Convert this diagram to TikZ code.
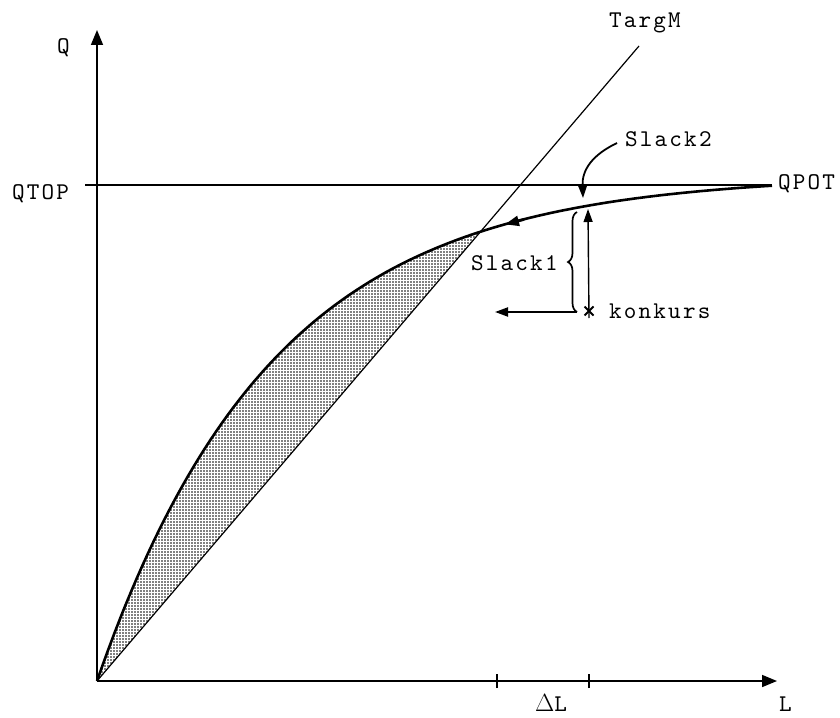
\documentclass[tikz,border=0pt]{standalone}
\usepackage{fontspec}
\newfontfamily\tyfont{lmmono10-regular}[Extension=.otf, LetterSpace=9]
\usetikzlibrary{arrows.meta, patterns.meta, decorations.pathreplacing}
\begin{document}
\begin{tikzpicture}[x=1pt,y=-1pt,
  lbl/.style={font=\tyfont\fontsize{24}{28}\selectfont, inner sep=0pt},
  axisline/.style={line width=1.6pt, -{Triangle[length=15pt,width=12pt]}},
  tipped/.style={-{Triangle[length=13pt,width=9pt]}},
  thincurve/.style={line width=1.2pt},
  thickcurve/.style={line width=2.6pt}]
\useasboundingbox (0,0) rectangle (840,717);
% coordinates
\coordinate (O) at (97,681);
\coordinate (Ytop) at (97,30);
\coordinate (Xend) at (777,681);
\coordinate (QTOPl) at (85,185);
\coordinate (QTOPr) at (772,185);
\coordinate (TargMend) at (639,46);
% shaded lens (between the curve and TargM)
\begin{scope}
  \clip (O) -- (TargMend) -- (97,0) -- cycle;
  \fill[pattern={Dots[distance=3pt, radius=0.8pt]}]
    plot[domain=0:675, samples=120] ({97+\x},{681-506*(1-exp(-0.0057*\x))}) -- (772,681) -- cycle;
\end{scope}
% axes
\draw[axisline] (O) -- (Ytop);
\draw[axisline] (O) -- (Xend);
% ticks
\coordinate (T1) at (497,681);
\coordinate (T2) at (589,681);
\draw[line width=1.6pt] ([yshift=-7pt]T1) -- ([yshift=7pt]T1);
\draw[line width=1.6pt] ([yshift=-7pt]T2) -- ([yshift=7pt]T2);
% QTOP line
\draw[line width=1.8pt] (QTOPl) -- (QTOPr);
% TargM line
\draw[thincurve] (O) -- (TargMend);
% main curve
\draw[thickcurve] plot[domain=0:675, samples=120] ({97+\x},{681-506*(1-exp(-0.0057*\x))});
% arrowhead on the curve
\coordinate (Ca) at (524,219.5);
\coordinate (Cb) at (505,224.4);
\draw[thickcurve, -{Triangle[length=14pt,width=10pt]}] (Ca) -- (Cb);
% konkurs marker
\coordinate (K) at (589,311);
\draw[line width=1.8pt] ([shift={(-4.5,-4.5)}]K) -- ([shift={(4.5,4.5)}]K)
                        ([shift={(-4.5,4.5)}]K) -- ([shift={(4.5,-4.5)}]K);
% vertical arrow to curve
\coordinate (Vtop) at (588,209);
\draw[line width=1.4pt, tipped] ([yshift=-7pt]K) -- (Vtop);
% brace and left arrow
\coordinate (Bbot) at (577,312);
\coordinate (Btop) at (577,212);
\coordinate (Harr) at (495,312);
\draw[line width=1.7pt, decorate, decoration={brace, amplitude=9pt}] (Bbot) -- (Btop);
\draw[line width=2pt, tipped] (Bbot) -- (Harr);
% Slack2 leader
\coordinate (S2a) at (617,143);
\coordinate (S2b) at (583,198);
\draw[line width=1.8pt, tipped] (S2a) .. controls (592,155) and (582,170) .. (S2b);
% labels
\node[lbl, anchor=base west] (q) at (57,54) {Q};
\node[lbl, anchor=base west] (qtop) at (12,199) {QTOP};
\node[lbl, anchor=base west] (qpot) at (778,189) {QPOT};
\node[lbl, anchor=base west] (targm) at (609,28) {TargM};
\node[lbl, anchor=base west] (slack2) at (625,146) {Slack2};
\node[lbl, anchor=base west] (slack1) at (471,270) {Slack1};
\node[lbl, anchor=base west] (konkurs) at (609,318) {konkurs};
\node[lbl, anchor=base west] (dl) at (535,711) {$\Delta$L};
\node[lbl, anchor=base west] (l) at (779,711) {L};
\end{tikzpicture}
\end{document}
